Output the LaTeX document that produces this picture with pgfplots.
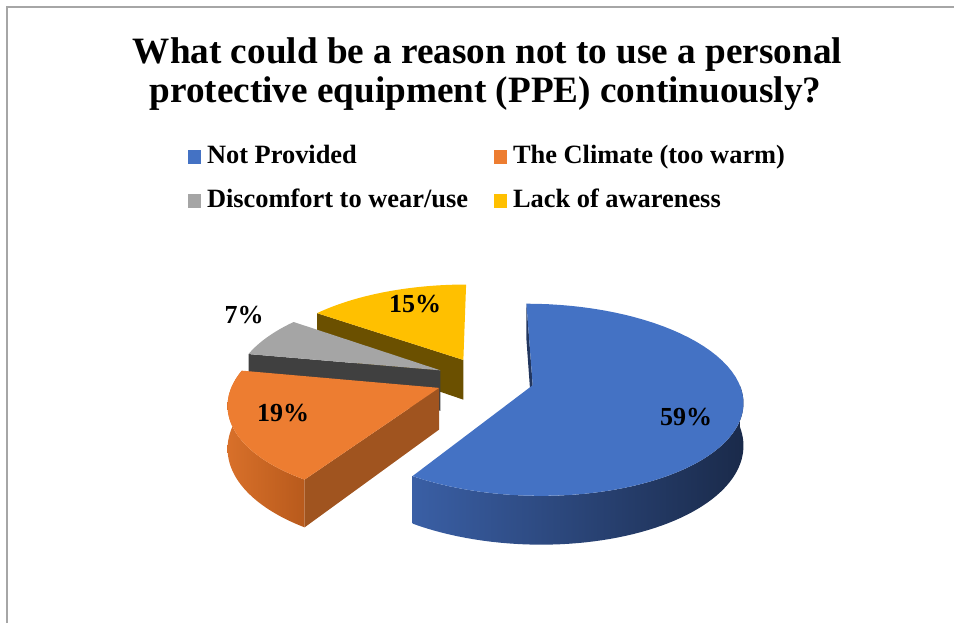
\documentclass[border=0pt]{standalone}
\usepackage{fontspec}
\setmainfont{Liberation Serif}
\usepackage{pgfplots}
\usepackage{pgfplotstable}
\pgfplotsset{compat=1.18}

\definecolor{cBlue}{HTML}{4472C4}
\definecolor{cOrange}{HTML}{ED7D31}
\definecolor{cGray}{HTML}{A5A5A5}
\definecolor{cYellow}{HTML}{FFC000}
\definecolor{cBlueSideL}{HTML}{3A5FA5}
\definecolor{cBlueSideR}{HTML}{1A2A4A}
\definecolor{cBlueCut}{HTML}{22365E}
\definecolor{cOrangeSideL}{HTML}{D8702A}
\definecolor{cOrangeSideR}{HTML}{B85A1C}
\definecolor{cOrangeCut}{HTML}{A0541F}
\definecolor{cGrayCut}{HTML}{404040}
\definecolor{cYellowCut}{HTML}{6B5000}

\pgfplotstableread{
idx value
0 59
1 19
2 7
3 15
}\piedata

% top face: #1 style, #2 eu, #3 ew, #4 a, #5 b
\newcommand\facetop[5]{%
\addplot[#1, draw=none, forget plot, domain=0:2, samples=121, variable=\t]
 ({PX(#2+min(\t,1)*cos(#4+(#5-(#4))*max(\t-1,0)), #3+min(\t,1)*sin(#4+(#5-(#4))*max(\t-1,0)))},
  {PY(#2+min(\t,1)*cos(#4+(#5-(#4))*max(\t-1,0)), #3+min(\t,1)*sin(#4+(#5-(#4))*max(\t-1,0)), 0)});
}
% outer side: #1 style, #2 eu, #3 ew, #4 a, #5 b
\newcommand\faceside[5]{%
\addplot[#1, draw=none, forget plot, domain=0:3, samples=181, variable=\t]
 ({PX(#2+cos(#4+(#5-(#4))*(min(\t,1)-max(\t-2,0))), #3+sin(#4+(#5-(#4))*(min(\t,1)-max(\t-2,0))))},
  {PY(#2+cos(#4+(#5-(#4))*(min(\t,1)-max(\t-2,0))), #3+sin(#4+(#5-(#4))*(min(\t,1)-max(\t-2,0))), -min(max(\t-1,0),1))});
}
% radial cut face: #1 style, #2 eu, #3 ew, #4 angle
\newcommand\facecut[4]{%
\addplot[#1, draw=none, forget plot, samples at={0,1,2,3}, variable=\t]
 ({PX(#2+(min(\t,1)-max(\t-2,0))*cos(#4), #3+(min(\t,1)-max(\t-2,0))*sin(#4))},
  {PY(#2+(min(\t,1)-max(\t-2,0))*cos(#4), #3+(min(\t,1)-max(\t-2,0))*sin(#4), -min(max(\t-1,0),1))});
}

\begin{document}
\begin{tikzpicture}
\pgfplotstablegetelem{0}{value}\of\piedata \edef\vA{\pgfplotsretval}
\pgfplotstablegetelem{1}{value}\of\piedata \edef\vB{\pgfplotsretval}
\pgfplotstablegetelem{2}{value}\of\piedata \edef\vC{\pgfplotsretval}
\pgfplotstablegetelem{3}{value}\of\piedata \edef\vD{\pgfplotsretval}
\pgfmathsetmacro\aA{90}
\pgfmathsetmacro\bA{\aA-3.6*\vA}
\pgfmathsetmacro\aB{\bA}
\pgfmathsetmacro\bB{\aB-3.6*\vB}
\pgfmathsetmacro\aC{\bB}
\pgfmathsetmacro\bC{\aC-3.6*\vC}
\pgfmathsetmacro\aD{\bC}
\pgfmathsetmacro\bD{\aD-3.6*\vD}
\pgfmathsetmacro\euA{0.24*cos((\aA+\bA)/2)}\pgfmathsetmacro\ewA{0.24*sin((\aA+\bA)/2)}
\pgfmathsetmacro\euB{0.24*cos((\aB+\bB)/2)}\pgfmathsetmacro\ewB{0.24*sin((\aB+\bB)/2)}
\pgfmathsetmacro\euC{0.24*cos((\aC+\bC)/2)}\pgfmathsetmacro\ewC{0.24*sin((\aC+\bC)/2)}
\pgfmathsetmacro\euD{0.24*cos((\aD+\bD)/2)}\pgfmathsetmacro\ewD{0.24*sin((\aD+\bD)/2)}
\path[use as bounding box] (0,0) rectangle (477pt,311.5pt);
\begin{axis}[
  at={(0,0)}, anchor=south west, scale only axis,
  width=477pt, height=311.5pt,
  xmin=0, xmax=954, ymin=0, ymax=623,
  hide axis, clip=false,
  declare function={
    PX(\u,\w)=485+205*\u/(1+0.15*\w);
    PY(\u,\w,\z)=244+(92*\w+41*\z)/(1+0.15*\w);
  },
  legend columns=2,
  legend cell align=left,
  legend image code/.code={\fill[#1, draw=none] (0pt,-3.5pt) rectangle (6.5pt,3.5pt);},
  legend style={draw=none, fill=none, at={(0.1971,0.7668)}, anchor=north west,
    inner sep=0pt, outer sep=0pt,
    font=\fontsize{13.2}{15}\selectfont\bfseries,
    nodes={inner xsep=0pt, inner ysep=0pt, text height=9pt, text depth=2.5pt},
    /tikz/every odd column/.append style={column sep=3pt},
    /tikz/every even column/.append style={column sep=13pt},
    row sep=10.75pt},
]
\addlegendimage{fill=cBlue}\addlegendentry{Not Provided}
\addlegendimage{fill=cOrange}\addlegendentry{The Climate (too warm)}
\addlegendimage{fill=cGray}\addlegendentry{Discomfort to wear/use}
\addlegendimage{fill=cYellow}\addlegendentry{Lack of awareness}

\draw[color=black!35, line width=0.75pt] (axis cs:7,0) -- (axis cs:7,616) -- (axis cs:954,616);

% yellow (back)
\facecut{fill=cYellowCut}{\euD}{\ewD}{\aD}
\facetop{fill=cYellow}{\euD}{\ewD}{\aD}{\bD}
% gray
\facecut{fill=cGrayCut}{\euC}{\ewC}{\aC}
\facetop{fill=cGray}{\euC}{\ewC}{\aC}{\bC}
% orange
\faceside{left color=cOrangeSideL, right color=cOrangeSideR}{\euB}{\ewB}{\aB}{\bB}
\facecut{fill=cOrangeCut}{\euB}{\ewB}{\aB}
\facetop{fill=cOrange}{\euB}{\ewB}{\aB}{\bB}
% blue (front)
\faceside{left color=cBlueSideL, right color=cBlueSideR}{\euA}{\ewA}{\bA}{0}
\facecut{fill=cBlueCut}{\euA}{\ewA}{\aA}
\facetop{fill=cBlue}{\euA}{\ewA}{\aA}{\bA}

\node[anchor=base, font=\fontsize{18.6}{20}\selectfont\bfseries] at (axis cs:487.5,560) {What could be a reason not to use a personal};
\node[anchor=base, font=\fontsize{18.6}{20}\selectfont\bfseries] at (axis cs:485.5,521) {protective equipment (PPE) continuously?};

\node[font=\fontsize{13}{15}\selectfont\bfseries] at (axis cs:686,206) {59\%};
\node[font=\fontsize{13}{15}\selectfont\bfseries] at (axis cs:283,210) {19\%};
\node[font=\fontsize{13}{15}\selectfont\bfseries] at (axis cs:415,319) {15\%};
\node[font=\fontsize{13}{15}\selectfont\bfseries] at (axis cs:244,308) {7\%};
\end{axis}
\end{tikzpicture}
\end{document}
